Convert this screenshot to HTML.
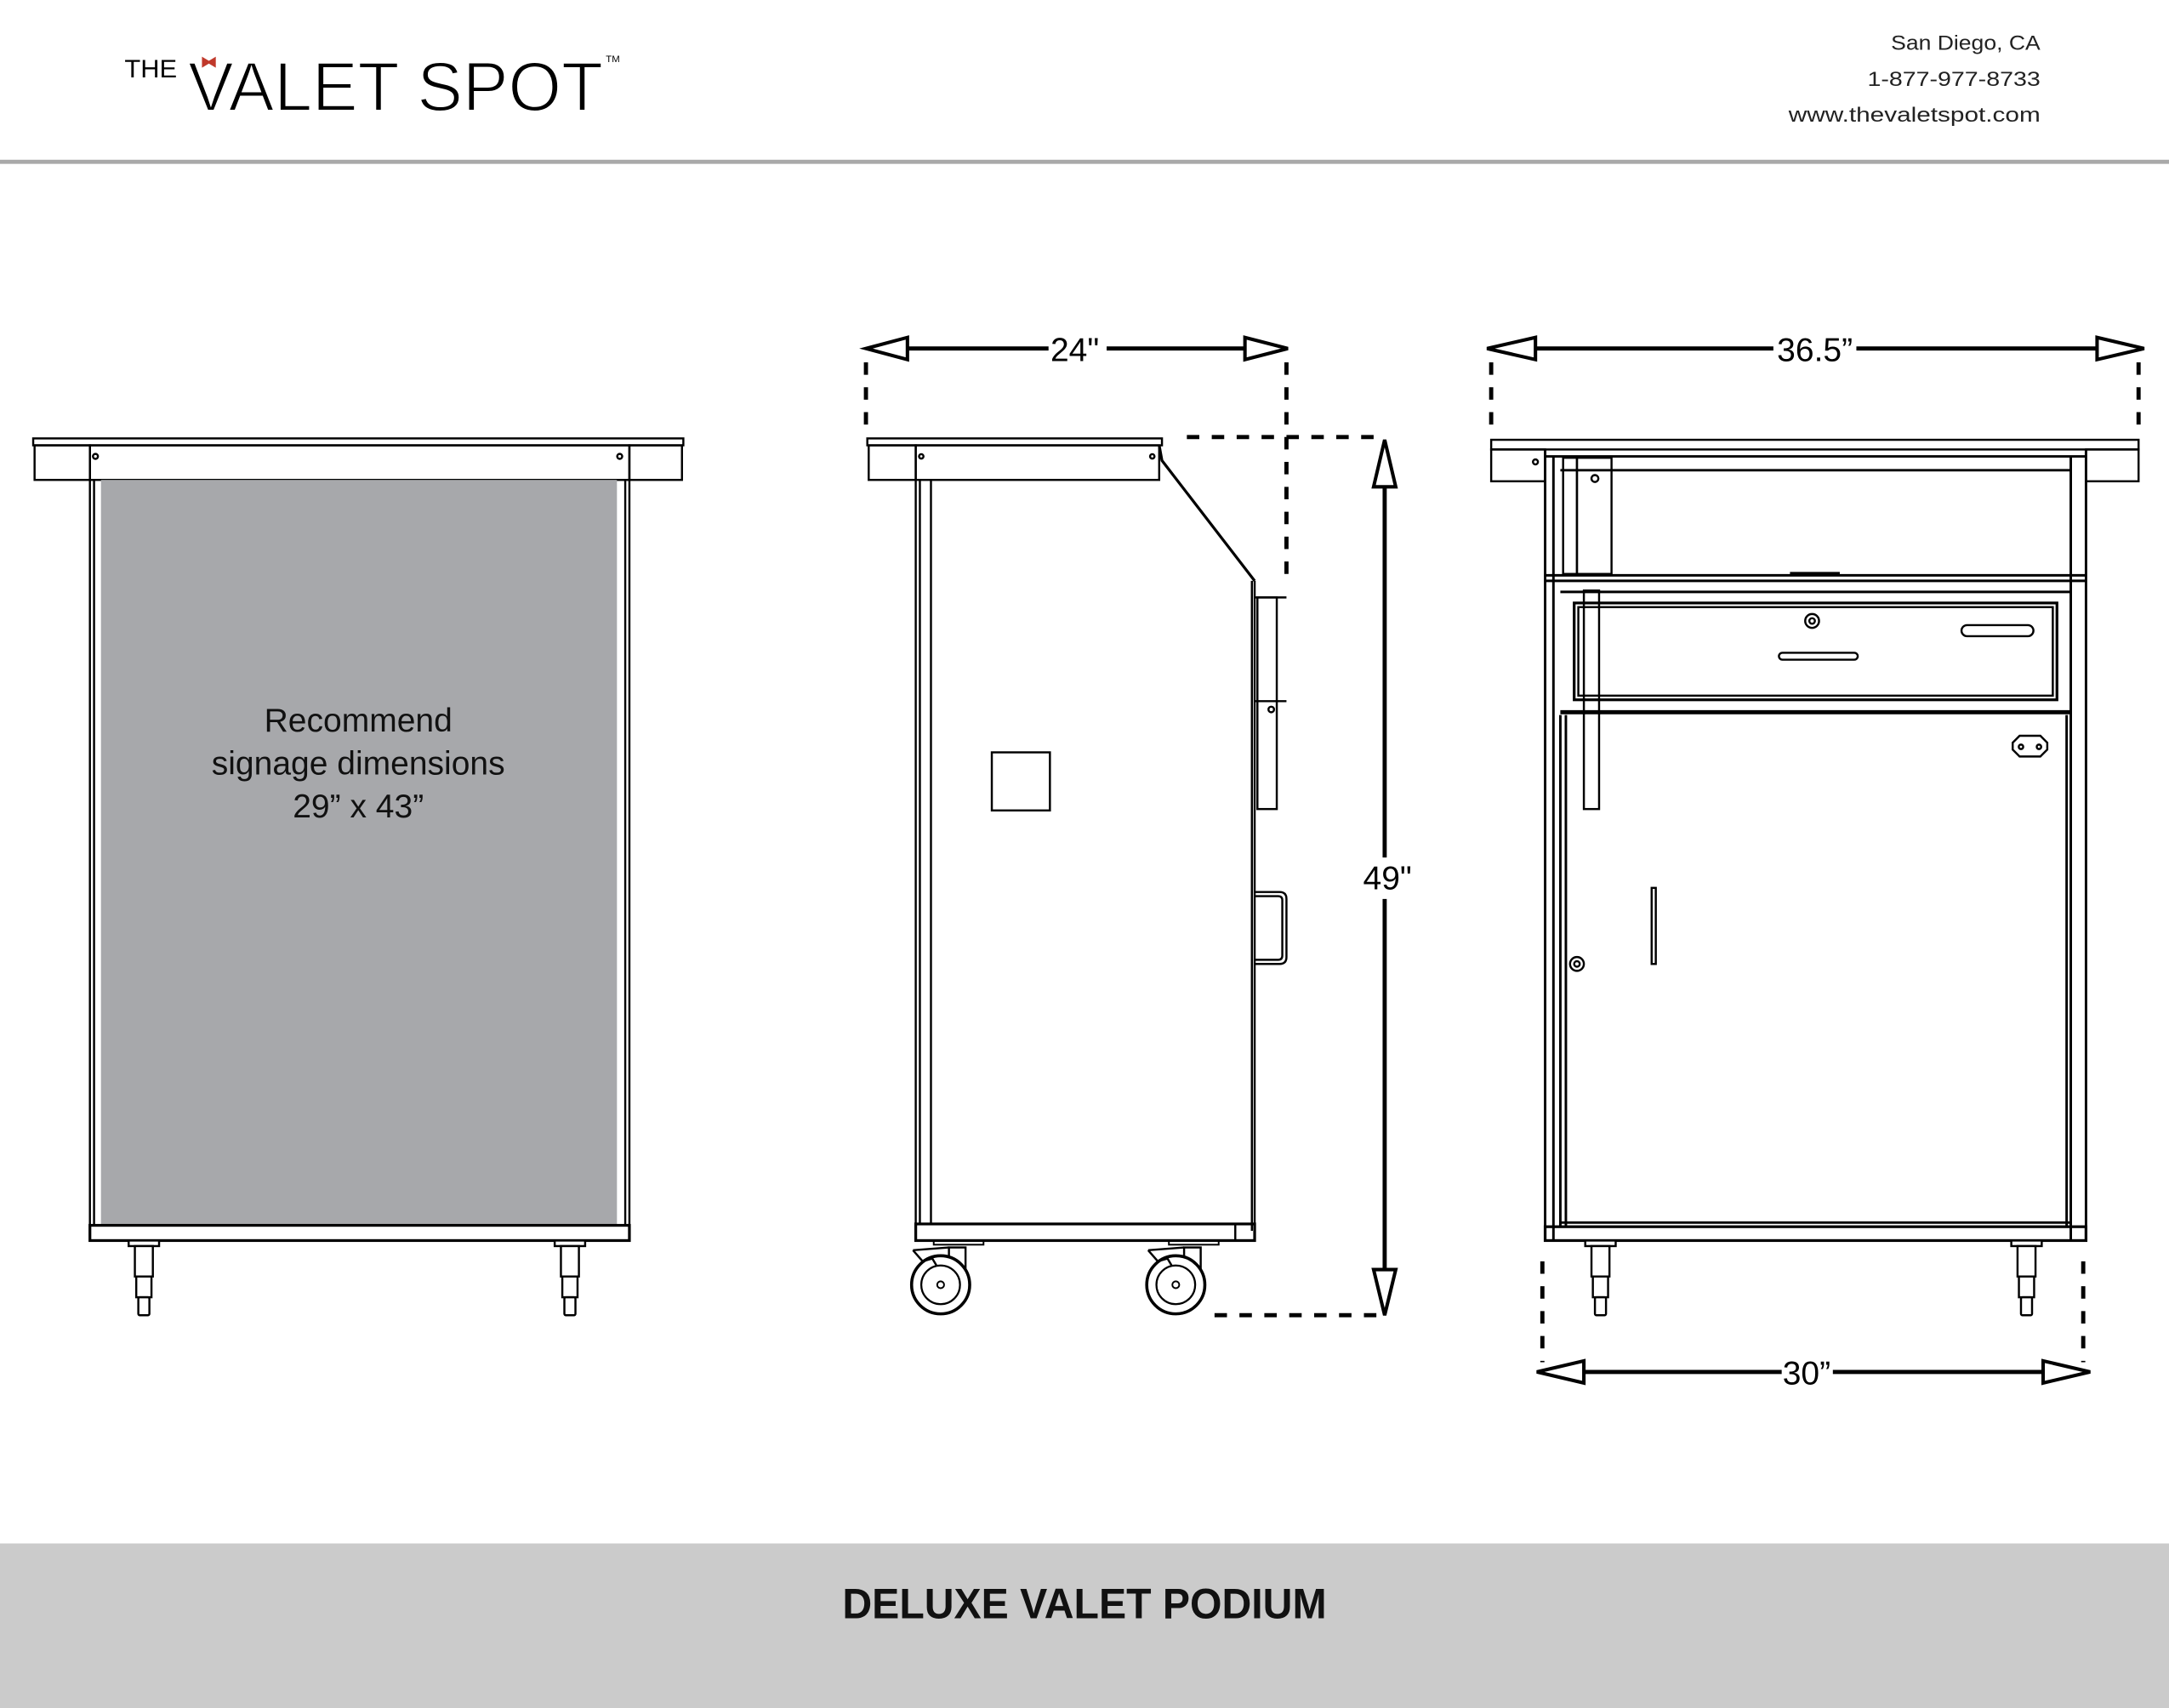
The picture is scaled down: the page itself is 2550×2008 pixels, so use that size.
<!DOCTYPE html>
<html><head><meta charset="utf-8"><style>
html,body{margin:0;padding:0;background:#fff;}
svg{display:block;}
text{font-family:"Liberation Sans",Arial,sans-serif;}
</style></head><body>
<svg width="2550" height="2008" viewBox="0 0 1568 1235" preserveAspectRatio="none" xmlns="http://www.w3.org/2000/svg">
<defs>
<g id="leg"><rect x="-11" y="0" width="22" height="4" fill="#fff" stroke="#000" stroke-width="1.5"/><rect x="-6.5" y="4" width="13" height="22" fill="#fff" stroke="#000" stroke-width="1.5"/><rect x="-5.5" y="26" width="11" height="15" fill="#fff" stroke="#000" stroke-width="1.5"/><rect x="-4" y="41" width="8" height="13" rx="1" fill="#fff" stroke="#000" stroke-width="1.5"/></g>
<g id="caster" fill="none" stroke="#000"><rect x="-5" y="0" width="36" height="3" stroke-width="1.2"/><rect x="6" y="5" width="12" height="20" fill="#fff" stroke-width="1.5"/><circle cx="0" cy="32" r="21" stroke-width="2.2" fill="#fff"/><circle cx="0" cy="32" r="14" stroke-width="1.4"/><circle cx="0" cy="32" r="2.5" stroke-width="1.2"/><path d="M-20 7 L6 5 M-20 7 L-13 15 L-6 13 L-3 18" stroke-width="1.5"/></g>
</defs>
<!-- header -->
<text x="90" y="56" font-size="18" textLength="38" lengthAdjust="spacingAndGlyphs">THE</text>
<path d="M146 41 l5 3 l5 -3 v8 l-5 -3 l-5 3z" fill="#c0392b"/>
<text x="136" y="80" font-size="50" textLength="300" lengthAdjust="spacingAndGlyphs" stroke="#fff" stroke-width="1.2" paint-order="normal">VALET SPOT</text>
<text x="438" y="45" font-size="7">TM</text>
<g font-size="15" text-anchor="end" fill="#222" font-family="Liberation Sans"><text x="1475" y="36" textLength="108" lengthAdjust="spacingAndGlyphs">San Diego, CA</text><text x="1475" y="62" textLength="125" lengthAdjust="spacingAndGlyphs">1-877-977-8733</text><text x="1475" y="88" textLength="182" lengthAdjust="spacingAndGlyphs">www.thevaletspot.com</text></g>
<rect x="0" y="115.5" width="1568" height="3" fill="#a9a9a9"/>
<!-- footer -->
<rect x="0" y="1116" width="1568" height="119" fill="#cbcbcb"/>
<text x="609" y="1170" font-size="31" font-weight="bold" fill="#111" textLength="350" lengthAdjust="spacingAndGlyphs">DELUXE VALET PODIUM</text>

<g fill="none" stroke="#000" stroke-width="1.5">
<!-- LEFT VIEW -->
<rect x="24" y="317" width="470" height="5"/>
<rect x="25" y="322" width="40" height="25"/><rect x="455" y="322" width="38" height="25"/><rect x="65" y="322" width="390" height="25"/>
<circle cx="69" cy="330" r="1.8"/><circle cx="448" cy="330" r="1.8"/>
<rect x="73" y="347" width="373" height="539" fill="#a7a8ab" stroke="none"/>
<path d="M65 347 V897 M68 347 V886 M455 347 V897 M452 347 V886"/>
<rect x="65" y="886" width="390" height="11" stroke-width="2"/>
</g>
<use href="#leg" x="104" y="897"/><use href="#leg" x="412" y="897"/>
<g font-size="24" text-anchor="middle" fill="#111"><text x="259" y="529">Recommend</text><text x="259" y="560">signage dimensions</text><text x="259" y="591">29” x 43”</text></g>

<!-- SIDE VIEW -->
<g fill="none" stroke="#000" stroke-width="1.5">
<rect x="627" y="317" width="213" height="5"/>
<rect x="628" y="322" width="34" height="25"/><rect x="662" y="322" width="176" height="25"/>
<circle cx="666" cy="330" r="1.6"/><circle cx="833" cy="330" r="1.6"/>
<path d="M838 322 L840 333 L907 420" stroke-width="2"/>
<path d="M662 347 V897 M665 347 V885 M673 347 V885 M905 420 V890 M907 420 V890" />
<rect x="662" y="885" width="245" height="12" stroke-width="2"/>
<path d="M893 885 V897"/>
<rect x="717" y="544" width="42" height="42"/>
<rect x="909" y="432" width="14" height="153"/>
<path d="M907 432 H930 M907 507 H930"/>
<circle cx="919" cy="513" r="2"/>
<path d="M907 645 H925 Q930 645 930 650 V692 Q930 697 925 697 H907 M907 648 H924 Q927 648 927 651 V691 Q927 694 924 694 H907"/>
</g>
<use href="#caster" x="680" y="897"/><use href="#caster" x="850" y="897"/>
<!-- dims side -->
<g stroke="#000" fill="none">
<path d="M626 262 V313 M930 262 V420 M858 316 H1000 M878 951 H1000" stroke-width="3" stroke-dasharray="9 9"/>
<path d="M656 252 H758 M800 252 H900 M1001 352 V620 M1001 650 V918" stroke-width="3"/>
<path d="M626 252 L656 244 V260 Z M931 252 L900 244 V260 Z M1001 318 L993 352 H1009 Z M1001 951 L993 918 H1009 Z" stroke-width="2.5" fill="#fff"/>
</g>
<text x="777" y="261" font-size="24" text-anchor="middle">24"</text>
<text x="1003" y="643" font-size="24" text-anchor="middle">49"</text>

<!-- FRONT VIEW -->
<g fill="none" stroke="#000" stroke-width="1.5">
<rect x="1078" y="318" width="468" height="7"/>
<rect x="1078" y="325" width="39" height="23"/><rect x="1508" y="325" width="38" height="23"/>
<circle cx="1110" cy="334" r="1.8"/>
<path d="M1117 325 V897 M1123 330 V897 M1497 330 V897 M1508 325 V897" stroke-width="1.8"/>
<path d="M1117 330 H1508 M1128 340 H1497 M1117 416 H1508 M1117 420 H1508 M1128 428 H1497" stroke-width="1.8"/>
<path d="M1294 415 H1330" stroke-width="3"/>
<rect x="1130" y="331" width="10" height="84"/><rect x="1140" y="331" width="25" height="84"/>
<circle cx="1153" cy="346" r="2.5"/>
<rect x="1138" y="436" width="349" height="70" stroke-width="2"/>
<rect x="1141" y="439" width="343" height="64"/>
<rect x="1145" y="427" width="11" height="158"/>
<circle cx="1310" cy="449" r="5"/><circle cx="1310" cy="449" r="2"/>
<rect x="1286" y="472" width="57" height="5" rx="2.5"/>
<rect x="1418" y="452" width="52" height="8" rx="4"/>
<path d="M1128 515 H1497" stroke-width="3"/>
<path d="M1128 517 V887 M1132 517 V887 M1494 517 V887" stroke-width="1.8"/>
<path d="M1460 532 H1475 L1480 537 V542 L1475 547 H1460 L1455 542 V537 Z"/>
<circle cx="1461" cy="540" r="1.6"/><circle cx="1474" cy="540" r="1.6"/>
<rect x="1194" y="642" width="3" height="55"/>
<circle cx="1140" cy="697" r="5"/><circle cx="1140" cy="697" r="2"/>
<path d="M1128 884 H1497" stroke-width="1.8"/>
<rect x="1117" y="887" width="391" height="10" stroke-width="2"/>
</g>
<use href="#leg" x="1157" y="897"/><use href="#leg" x="1465" y="897"/>
<g stroke="#000" fill="none">
<path d="M1078 262 V313 M1546 262 V313 M1115 912 V985 M1506 912 V985" stroke-width="3" stroke-dasharray="9 9"/>
<path d="M1110 252 H1282 M1342 252 H1516 M1145 992 H1288 M1325 992 H1477" stroke-width="3"/>
<path d="M1075 252 L1110 244 V260 Z M1550 252 L1516 244 V260 Z M1111 992 L1145 984 V1000 Z M1511 992 L1477 984 V1000 Z" stroke-width="2.5" fill="#fff"/>
</g>
<text x="1312" y="261" font-size="24" text-anchor="middle">36.5”</text>
<text x="1306" y="1001" font-size="24" text-anchor="middle">30”</text>
</svg>
</body></html>
